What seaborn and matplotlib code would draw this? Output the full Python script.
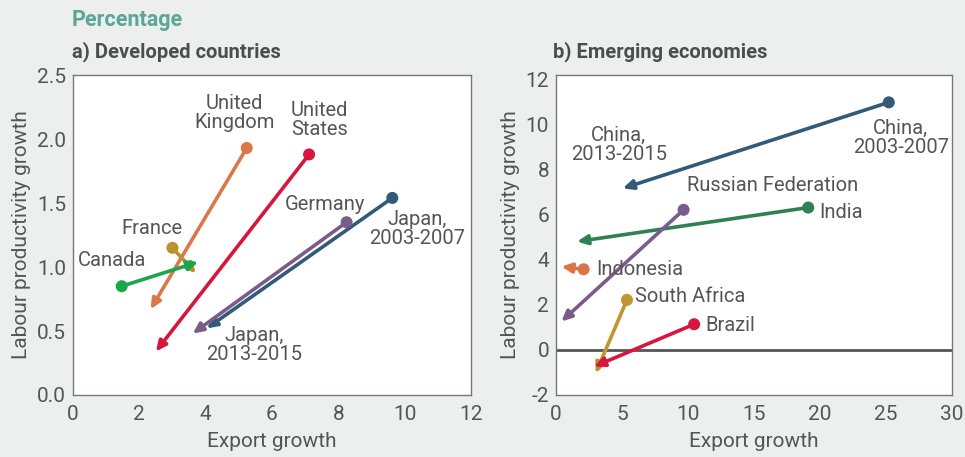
import pandas as pd
import seaborn as sns
import matplotlib.pyplot as plt

# ─────────────────────────────────────────────────────────────
# Daten (Start = 2003-2007, Ende = 2013-2015)
# ─────────────────────────────────────────────────────────────

dev_names = ["United Kingdom", "United States", "Japan", "Germany", "France", "Canada"]
dev_x0 = [5.24, 7.12, 9.63, 8.25, 3.00, 1.47]
dev_y0 = [1.93, 1.88, 1.54, 1.35, 1.15, 0.85]
dev_x1 = [2.34, 2.50, 4.03, 3.61, 3.71, 3.78]
dev_y1 = [0.67, 0.34, 0.52, 0.48, 0.95, 1.04]
dev_colors = ["#DA784A", "#D6163C", "#345A79", "#7A5C8A", "#BE912F", "#1AA64B"]

emg_names = ["China", "India", "Russian Federation", "Indonesia", "South Africa", "Brazil"]
emg_x0 = [25.2, 19.1, 9.66, 2.09, 5.37, 10.46]
emg_y0 = [10.99, 6.32, 6.22, 3.58, 2.22, 1.14]
emg_x1 = [5.05, 1.59, 0.40, 0.40, 3.00, 2.88]
emg_y1 = [7.17, 4.81, 1.26, 3.70, -1.04, -0.74]
emg_colors = ["#345A79", "#2F8153", "#7A5C8A", "#DA7548", "#C3952F", "#D6163C"]

# Beschriftungen: Text, x, y, Ausrichtung
dev_labels = [
    ("United\nKingdom", 4.88, 2.20, "center"),
    ("United\nStates", 7.43, 2.15, "center"),
    ("Germany", 7.60, 1.49, "center"),
    ("Japan,\n2003-2007", 10.39, 1.30, "center"),
    ("France", 2.37, 1.30, "center"),
    ("Canada", 1.19, 1.05, "center"),
    ("Japan,\n2013-2015", 5.47, 0.39, "center"),
]
emg_labels = [
    ("China,\n2013-2015", 4.75, 9.11, "center"),
    ("China,\n2003-2007", 26.1, 9.41, "center"),
    ("Russian Federation", 16.37, 7.30, "center"),
    ("India", 19.9, 6.10, "left"),
    ("Indonesia", 3.01, 3.58, "left"),
    ("South Africa", 5.99, 2.37, "left"),
    ("Brazil", 11.33, 1.07, "left"),
]

# ─────────────────────────────────────────────────────────────
# Plot
# ─────────────────────────────────────────────────────────────

BG = "#ECEFEE"
TXT = "#555555"

sns.set_style("white")
plt.rcParams["font.family"] = ["Roboto", "DejaVu Sans"]
plt.rcParams["axes.unicode_minus"] = False

fig = plt.figure(figsize=(9.65, 4.57), dpi=100, facecolor=BG)
ax1 = fig.add_axes([0.0756, 0.1357, 0.4124, 0.700])
ax2 = fig.add_axes([0.5762, 0.1357, 0.4105, 0.700])


def draw_panel(ax, names, x0, y0, x1, y1, colors, labels):
    df = pd.DataFrame({"name": names, "x0": x0, "y0": y0, "x1": x1, "y1": y1})
    pal = dict(zip(names, colors))
    for _, r in df.iterrows():
        ax.annotate(
            "", xy=(r["x1"], r["y1"]), xytext=(r["x0"], r["y0"]),
            arrowprops=dict(arrowstyle="-|>,head_length=0.6,head_width=0.28",
                            color=pal[r["name"]], lw=2.6, shrinkA=0, shrinkB=0),
            zorder=3,
        )
    sns.scatterplot(data=df, x="x0", y="y0", hue="name", palette=pal,
                    s=75, edgecolor="none", legend=False, ax=ax, zorder=4)
    for txt, tx, ty, ha in labels:
        ax.text(tx, ty, txt, ha=ha, va="center", fontsize=14.5, color=TXT,
                linespacing=1.0, zorder=5)

    ax.set_facecolor("white")
    for s in ax.spines.values():
        s.set_color("#777777")
        s.set_linewidth(1.0)
    ax.tick_params(axis="both", length=0, labelsize=15, colors=TXT, pad=5)
    ax.tick_params(axis="x", pad=7)
    ax.set_xlabel("Export growth", fontsize=15, color=TXT, labelpad=6)
    ax.set_ylabel("Labour productivity growth", fontsize=15, color=TXT, labelpad=4)


draw_panel(ax1, dev_names, dev_x0, dev_y0, dev_x1, dev_y1, dev_colors, dev_labels)
ax1.set_xlim(0, 12)
ax1.set_ylim(0, 2.5)
ax1.set_xticks(range(0, 13, 2))
ax1.set_yticks([0, 0.5, 1.0, 1.5, 2.0, 2.5])
ax1.set_yticklabels(["0.0", "0.5", "1.0", "1.5", "2.0", "2.5"])

draw_panel(ax2, emg_names, emg_x0, emg_y0, emg_x1, emg_y1, emg_colors, emg_labels)
ax2.axhline(0, color="#555555", lw=2, zorder=2)
ax2.set_xlim(0, 30)
ax2.set_ylim(-2, 12.2)
ax2.set_xticks(range(0, 31, 5))
ax2.set_yticks(range(-2, 13, 2))

fig.text(0.0746, 0.957, "Percentage", fontsize=15.5, fontweight="bold",
         color="#5BA697", va="center")
fig.text(0.0746, 0.886, "a) Developed countries", fontsize=14.5, fontweight="bold",
         color="#4D4D4D", va="center")
fig.text(0.573, 0.886, "b) Emerging economies", fontsize=14.5, fontweight="bold",
         color="#4D4D4D", va="center")

plt.savefig("out.png", dpi=100, facecolor=BG)
